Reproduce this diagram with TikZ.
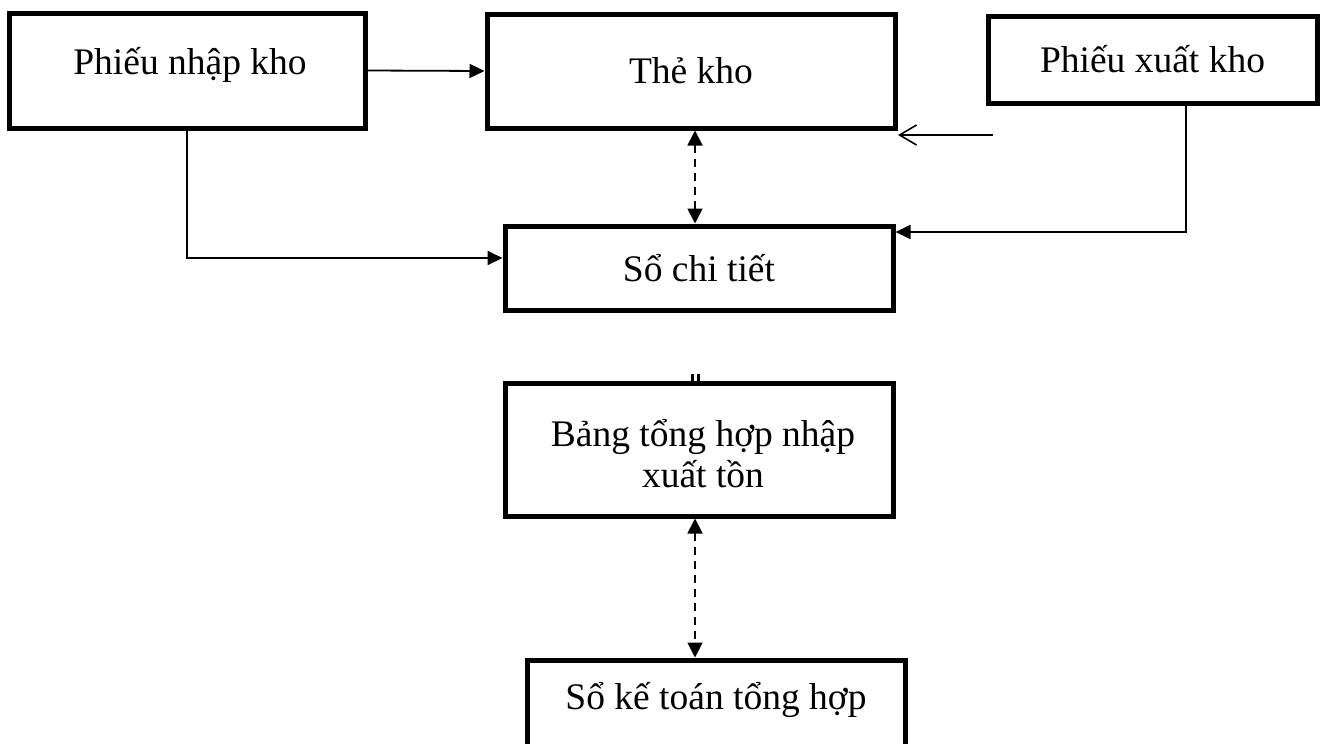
\documentclass[tikz,border=0pt]{standalone}
\usepackage{fontspec}
\setmainfont{Liberation Serif}
\usetikzlibrary{arrows.meta}
\tikzset{
  box/.style={draw, line width=5pt, rectangle, inner sep=0pt, align=center, font=\fontsize{37.5}{41}\selectfont},
  conn/.style={line width=1.8pt, -{Triangle[length=15pt,width=14pt]}},
  dconn/.style={line width=1.8pt, dash pattern=on 8pt off 6pt, {Triangle[length=15pt,width=15pt]}-{Triangle[length=15pt,width=15pt]}},
  openconn/.style={line width=1.6pt, -{Straight Barb[length=17pt,width=20pt]}},
  lbl/.style={inner sep=0pt, font=\fontsize{37.5}{41}\selectfont}
}
\begin{document}
\begin{tikzpicture}[x=1pt,y=-1pt]
\useasboundingbox (0,0) rectangle (1323,744);
\clip (0,0) rectangle (1323,744);
\fill[white] (0,0) rectangle (1323,744);
\node[box, minimum width=356pt, minimum height=115pt] (b1) at (187,70.5) {};
\node[lbl] (t1) at (190,65) {Phiếu nhập kho};
\node[box, minimum width=408pt, minimum height=114pt] (b2) at (691,71) {Thẻ kho};
\node[box, minimum width=329pt, minimum height=87pt] (b3) at (1152.5,59.5) {Phiếu xuất kho};
\node[box, minimum width=388pt, minimum height=84pt] (b4) at (699,268) {Sổ chi tiết};
\node[box, minimum width=388pt, minimum height=133pt] (b5) at (699,449.5) {};
\node[lbl, align=center] (t5) at (703,454) {Bảng tổng hợp nhập\\xuất tồn};
\node[box, minimum width=378pt, minimum height=100pt] (b6) at (716,710) {};
\node[lbl] (t6) at (716,700) {Sổ kế toán tổng hợp};
% connectors
\draw[conn] (b1.east) -- (b2.west);
\coordinate (o1) at (993,135);
\coordinate (o2) at (898,135);
\draw[openconn] (o1) -- (o2);
\coordinate (c1) at (187,258);
\draw[conn] (b1.south) -- (c1) -- (b4.west |- c1);
\coordinate (c2) at (1186,232);
\draw[conn] (b3.south -| c2) -- (c2) -- (b4.east |- c2);
\coordinate (d1) at (695,0);
\draw[dconn] (b2.south -| d1) -- (b4.north -| d1);
\draw[dconn] (b5.south -| d1) -- (b6.north -| d1);
\coordinate (m1) at (692,374);
\coordinate (m2) at (692,381);
\coordinate (m3) at (698,374);
\coordinate (m4) at (698,381);
\draw[line width=3pt] (m1) -- (m2);
\draw[line width=3pt] (m3) -- (m4);
\end{tikzpicture}
\end{document}
